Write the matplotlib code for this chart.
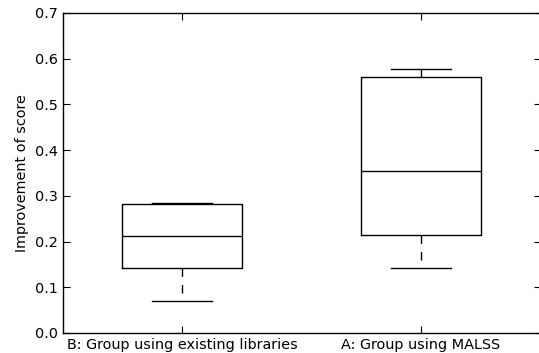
import matplotlib
matplotlib.use("Agg")
import matplotlib.pyplot as plt

labels = ["B: Group using existing libraries", "A: Group using MALSS"]
medians = [0.212, 0.355]
q1s = [0.142, 0.214]
q3s = [0.283, 0.561]
whis_lo = [0.071, 0.142]
whis_hi = [0.285, 0.578]

stats = []
for lab, m, a, b, lo, hi in zip(labels, medians, q1s, q3s, whis_lo, whis_hi):
    stats.append({"label": lab, "med": m, "q1": a, "q3": b,
                  "whislo": lo, "whishi": hi, "fliers": []})

fig = plt.figure(figsize=(5.39, 3.53), dpi=100)
ax = fig.add_axes([62.5/539, 20/353, 478/539, 320/353])

ax.bxp(stats, widths=0.5, showfliers=False,
       boxprops=dict(color="black", linewidth=1),
       medianprops=dict(color="black", linewidth=1),
       whiskerprops=dict(color="black", linewidth=1, linestyle=(0, (6, 6))),
       capprops=dict(color="black", linewidth=1))

ax.set_xlim(0.5, 2.5)
ax.set_ylim(0.0, 0.7)
ax.set_yticks([0.0, 0.1, 0.2, 0.3, 0.4, 0.5, 0.6, 0.7])
ax.set_ylabel("Improvement of score", fontsize=10.4, labelpad=4)
ax.tick_params(direction="in", top=True, right=True, length=5, labelsize=10.4)
for s in ax.spines.values():
    s.set_linewidth(1)
ax.spines["right"].set_visible(False)  # falls just outside the picture

fig.savefig("out.png", dpi=100)
